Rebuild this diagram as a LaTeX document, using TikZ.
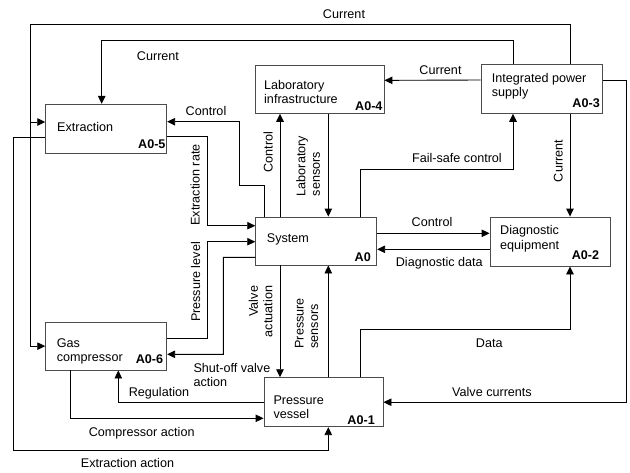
\documentclass[tikz,border=0pt]{standalone}
\usepackage{fontspec}
\setmainfont{Liberation Sans}
\usetikzlibrary{arrows.meta}
\begin{document}
\begin{tikzpicture}[x=1pt,y=-1pt,
  every node/.style={font=\fontsize{12.6}{14.5}\selectfont, inner sep=0pt},
  box/.style={draw=black!70, line width=0.9pt, fill=white, minimum width=121pt, minimum height=49pt},
  boxtext/.style={anchor=west, align=left},
  boxid/.style={anchor=east, font=\fontsize{12.6}{14.5}\selectfont\bfseries, text height=9pt, text depth=0pt},
  lbl/.style={text height=9pt, text depth=0pt},
  vlbl/.style={rotate=90},
  line/.style={draw=black, line width=0.9pt},
  arr/.style={line, -{Triangle[length=8pt,width=7.5pt]}}
]
\useasboundingbox (0,0) rectangle (630,472);

% boxes
\node[box] (ext) at (106.2,128.8) {};
\node[box, minimum width=128.3pt, minimum height=48.3pt] (lab) at (319.85,89.15) {};
\node[box, minimum width=121.7pt] (ips) at (541.85,88.8) {};
\node[box, minimum height=48pt] (sys) at (316.2,241) {};
\node[box, minimum width=120pt] (diag) at (550,241.5) {};
\node[box, minimum width=119pt] (pv) at (323.5,402.2) {};
\node[box, minimum height=47.7pt] (gas) at (106.2,346.15) {};

% box texts
\node[boxtext, lbl] (extT) at (57,126.7) {Extraction};
\node[boxtext] (labT) at (264,92) {Laboratory\\infrastructure};
\node[boxtext] (ipsT) at (491.7,86.2) {Integrated power\\supply};
\node[boxtext, lbl] (sysT) at (266.7,238.3) {System};
\node[boxtext] (diagT) at (500,238.5) {Diagnostic\\equipment};
\node[boxtext] (pvT) at (273.3,407.2) {Pressure\\vessel};
\node[boxtext] (gasT) at (56.7,351.5) {Gas\\compressor};

\node[boxid] (extI) at (165.7,144) {A0-5};
\node[boxid] (labI) at (382.7,106) {A0-4};
\node[boxid] (ipsI) at (600,103.3) {A0-3};
\node[boxid] (sysI) at (371,257.3) {A0};
\node[boxid] (diagI) at (599.3,255) {A0-2};
\node[boxid] (pvI) at (375,420) {A0-1};
\node[boxid] (gasI) at (163.3,359) {A0-6};

% connectors
\coordinate (jn) at (30,122);
\draw[arr] ([xshift=28.15pt]ips.north) |- (30,24.5) |- ([yshift=6.8pt]ext.west);
\draw[arr] (jn) |- (gas.west);
\draw[arr] ([xshift=-28.85pt]ips.north) |- (101.7,40.7) -- ([xshift=-4.5pt]ext.north);
\draw[arr] ([yshift=8.8pt]ips.west) -- ([yshift=8.8pt]lab.east);
\draw[arr] ([yshift=8.8pt]ips.east) -| (626,402.2) -- (pv.east);
\draw[arr] ([xshift=28.15pt]ips.south) -- ([xshift=20pt]diag.north);
\draw[arr] ([xshift=43.8pt]sys.north) |- (513,169.3) -- ([xshift=-28.85pt]ips.south);
\draw[arr] ([xshift=8.45pt]lab.south) -- ([xshift=12.1pt]sys.north);
\draw[arr] ([xshift=-36.2pt]sys.north) -- ([xshift=-39.85pt]lab.south);
\draw[arr] ([xshift=-51.9pt]sys.north) |- (239,185) |- ([yshift=7.1pt]ext.east);
\draw[arr] ([yshift=-7.9pt]ext.east) -| (207.3,225.7) -- ([yshift=15.3pt]sys.west);
\draw[arr] ([yshift=7.85pt]gas.east) -| (207.3,241.7) -- ([yshift=-0.7pt]sys.west);
\draw[arr] ([yshift=-16.3pt]sys.west) -| (223.3,354.3) -- ([yshift=-8.15pt]gas.east);
\draw[arr] ([xshift=-36.2pt]sys.south) -- ([xshift=-43.5pt]pv.north);
\draw[arr] ([xshift=4.8pt]pv.north) -- ([xshift=12.1pt]sys.south);
\draw[arr] ([xshift=36.5pt]pv.north) |- (570,329.3) -- ([xshift=20pt]diag.south);
\draw[arr] ([yshift=7.7pt]sys.east) -- ([yshift=8.2pt]diag.west);
\draw[arr] ([yshift=-7.8pt]diag.west) -- ([yshift=-8.3pt]sys.east);
\draw[arr] ([yshift=-0.1pt]pv.west) -| ([xshift=12.1pt]gas.south);
\draw[arr] ([xshift=-35.5pt]gas.south) |- ([yshift=-16.1pt]pv.west);
\draw[arr] ([yshift=-8.2pt]ext.west) -| (13.3,450) -| ([xshift=4.8pt]pv.south);

% connector labels
\node[lbl] (l1) at (344,14) {Current};
\node[lbl] (l2) at (158,55.7) {Current};
\node[lbl] (l3) at (440.5,70) {Current};
\node[lbl] (l4) at (206,110.7) {Control};
\node[lbl, vlbl] (l5) at (268,152) {Control};
\node[vlbl, align=left] (l6) at (308,166) {Laboratory\\sensors};
\node[lbl, vlbl] (l7) at (195,185) {Extraction rate};
\node[lbl, vlbl] (l8) at (195.7,282) {Pressure level};
\node[vlbl, align=right] (l9) at (260.5,311.5) {Valve\\actuation};
\node[vlbl, align=left] (l10) at (306.5,323.3) {Pressure\\sensors};
\node[anchor=west, align=left] (l11) at (193.3,375) {Shut-off valve\\action};
\node[lbl] (l12) at (159,392.3) {Regulation};
\node[lbl] (l13) at (141.7,431.7) {Compressor action};
\node[lbl] (l14) at (127.5,463.3) {Extraction action};
\node[lbl] (l15) at (457,158.3) {Fail-safe control};
\node[lbl, vlbl] (l16) at (558,161) {Current};
\node[lbl] (l17) at (432,221.7) {Control};
\node[lbl] (l18) at (439.3,262.3) {Diagnostic data};
\node[lbl] (l19) at (489.3,343.3) {Data};
\node[lbl] (l20) at (492,391.7) {Valve currents};
\end{tikzpicture}
\end{document}
